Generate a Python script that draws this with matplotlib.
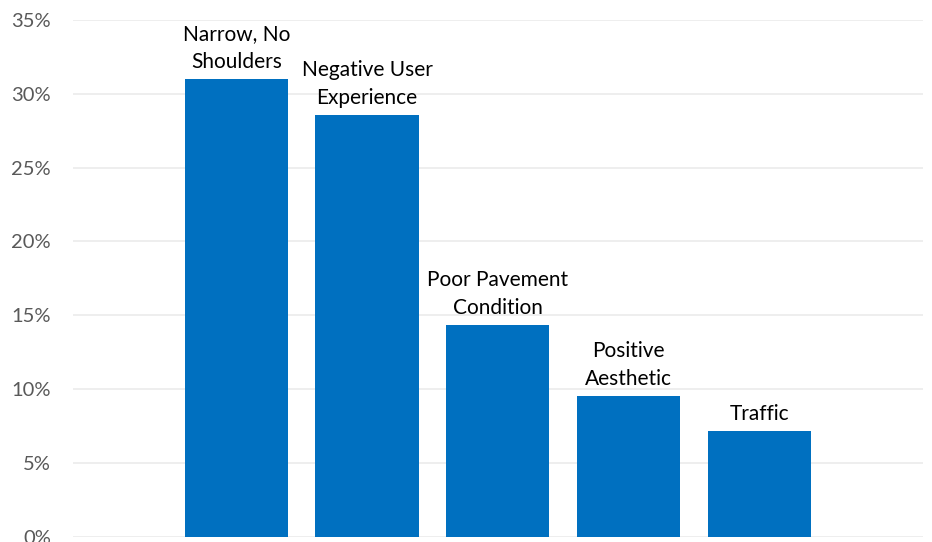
import matplotlib
matplotlib.use("Agg")
import matplotlib.pyplot as plt
from matplotlib.ticker import FuncFormatter, MultipleLocator

categories = ["Narrow, No\nShoulders", "Negative User\nExperience", "Poor Pavement\nCondition",
              "Positive\nAesthetic", "Traffic"]
values = [31.0, 28.55, 14.33, 9.53, 7.16]

plt.rcParams['font.family'] = ['Lato', 'DejaVu Sans']

fig = plt.figure(figsize=(9.32, 5.42), dpi=100)
ax = fig.add_axes([73/932, 1 - 536.7/542, (922.7-73)/932, (536.7-20)/542])

x = list(range(len(categories)))
bars = ax.bar(x, values, width=0.79, color="#0070C0", zorder=3)
for xi, v, lab in zip(x, values, categories):
    ax.annotate(lab, (xi, v), xytext=(0, 5), textcoords="offset points",
                ha="center", va="bottom", fontsize=15, color="#000000",
                linespacing=1.5)

ax.set_xlim(-1.25, 5.25)
ax.set_ylim(0, 35)
ax.yaxis.set_major_locator(MultipleLocator(5))
ax.yaxis.set_major_formatter(FuncFormatter(lambda v, p: f"{v:.0f}%"))
ax.grid(axis="y", color="#EDEDED", linewidth=1.3, zorder=0)
ax.set_xticks([])
for s in ax.spines.values():
    s.set_visible(False)
ax.tick_params(axis="y", length=0, pad=16, labelsize=14.5, labelcolor="#595959")

fig.savefig("out.png", dpi=100)
